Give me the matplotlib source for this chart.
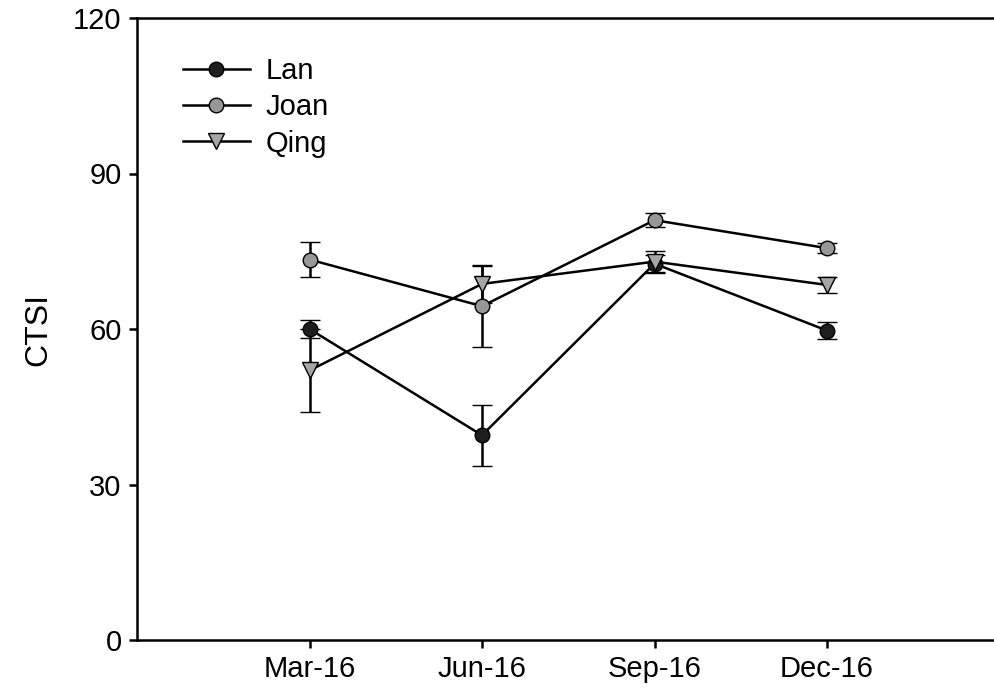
import numpy as np
import matplotlib.pyplot as plt

plt.rcParams['font.family'] = ['Liberation Sans', 'DejaVu Sans']

months = ['Mar-16', 'Jun-16', 'Sep-16', 'Dec-16']

lan = [60.0, 39.5, 72.6, 59.7]
lan_err = [1.8, 5.9, 1.6, 1.6]

joan = [73.4, 64.4, 81.0, 75.6]
joan_err = [3.4, 7.8, 1.4, 0.9]

qing = [52.0, 68.7, 73.0, 68.5]
qing_err = [8.0, 3.6, 2.1, 1.6]

series = [
    ('Lan', lan, lan_err, 'o', '#1e1e1e', 10.5),
    ('Joan', joan, joan_err, 'o', '#979797', 10.5),
    ('Qing', qing, qing_err, 'v', '#a6a6a6', 11),
]

fig = plt.figure(figsize=(9.95, 6.98), dpi=100)
ax = fig.add_axes([137 / 995, 1 - 640 / 698, (999.5 - 137) / 995, 622 / 698])

x = np.arange(1, len(months) + 1)
for name, vals, err, mk, face, ms in series:
    ax.errorbar(x, vals, yerr=err, color='black', linewidth=1.8,
                elinewidth=1.8, capsize=7, capthick=1.8,
                marker=mk, markersize=ms, markerfacecolor=face,
                markeredgecolor='black', markeredgewidth=1.0, label=name)

ax.set_xlim(0, 5)
ax.set_ylim(0, 120)
ax.set_xticks(x)
ax.set_xticklabels(months)
ax.set_yticks([0, 30, 60, 90, 120])
ax.set_ylabel('CTSI', fontsize=23, labelpad=14)

ax.spines['right'].set_visible(False)
for side in ('left', 'bottom', 'top'):
    ax.spines[side].set_linewidth(1.8)
ax.tick_params(direction='out', length=6, width=1.8, labelsize=21, pad=5)

handles, labels = ax.get_legend_handles_labels()
handles = [h[0] for h in handles]
ax.legend(handles, labels, loc='upper left', bbox_to_anchor=(0.053, 0.937),
          frameon=False, fontsize=21, handlelength=2.3, handletextpad=0.55,
          labelspacing=0.28, borderpad=0, borderaxespad=0)

fig.savefig('out.png', dpi=100)
